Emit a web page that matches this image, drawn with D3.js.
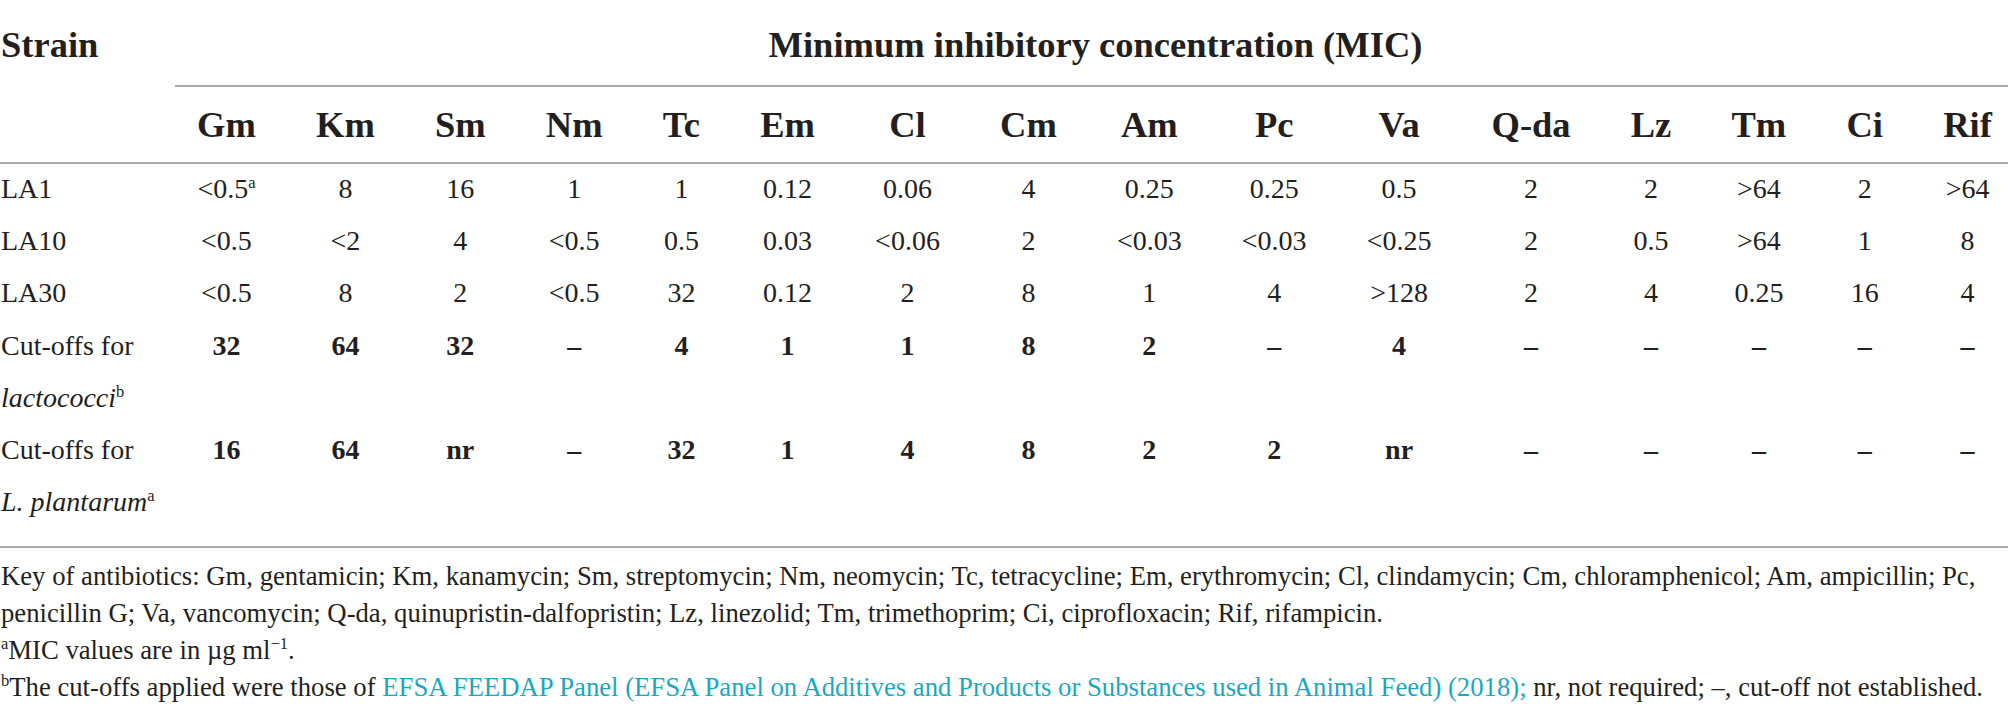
<!DOCTYPE html>
<html>
<head>
<meta charset="utf-8">
<script src="https://d3js.org/d3.v7.min.js"></script>
<style>
  html, body { margin: 0; padding: 0; background: #fff; }
  svg { display: block; }
  text { font-family: "Liberation Serif", "Times New Roman", serif; fill: #231f20; }
</style>
</head>
<body>
<svg id="tbl"></svg>
<script>
// table content
const antibiotics = ["Gm", "Km", "Sm", "Nm", "Tc", "Em", "Cl", "Cm", "Am", "Pc", "Va", "Q-da", "Lz", "Tm", "Ci", "Rif"];
const strains = ["LA1", "LA10", "LA30"];
const la1 = ["<0.5^a", "8", "16", "1", "1", "0.12", "0.06", "4", "0.25", "0.25", "0.5", "2", "2", ">64", "2", ">64"];
const la10 = ["<0.5", "<2", "4", "<0.5", "0.5", "0.03", "<0.06", "2", "<0.03", "<0.03", "<0.25", "2", "0.5", ">64", "1", "8"];
const la30 = ["<0.5", "8", "2", "<0.5", "32", "0.12", "2", "8", "1", "4", ">128", "2", "4", "0.25", "16", "4"];
const cutLactococci = ["32", "64", "32", "–", "4", "1", "1", "8", "2", "–", "4", "–", "–", "–", "–", "–"];
const cutPlantarum = ["16", "64", "nr", "–", "32", "1", "4", "8", "2", "2", "nr", "–", "–", "–", "–", "–"];
const headerTitle = "Minimum inhibitory concentration (MIC)";

const footKey1 = "Key of antibiotics: Gm, gentamicin; Km, kanamycin; Sm, streptomycin; Nm, neomycin; Tc, tetracycline; Em, erythromycin; Cl, clindamycin; Cm, chloramphenicol; Am, ampicillin; Pc,";
const footKey2 = "penicillin G; Va, vancomycin; Q-da, quinupristin-dalfopristin; Lz, linezolid; Tm, trimethoprim; Ci, ciprofloxacin; Rif, rifampicin.";
const footUnits = "MIC values are in µg ml";
const footCutPre = "The cut-offs applied were those of ";
const footCutLink = "EFSA FEEDAP Panel (EFSA Panel on Additives and Products or Substances used in Animal Feed) (2018);";
const footCutPost = " nr, not required; –, cut-off not established.";

const width = 2008, height = 718;
const svg = d3.select("#tbl").attr("width", width).attr("height", height);

const headSize = 36.5, bodySize = 28, footSize = 26.7, supSize = 16.5;
const ruleColor = "#a7a9ac";
const linkColor = "#1ba8bf";
const firstColRight = 175;

// rows of the body: label lines and which line holds the values
const rows = [
  { label: [strains[0]], values: la1, bold: false, line: 0 },
  { label: [strains[1]], values: la10, bold: false, line: 1 },
  { label: [strains[2]], values: la30, bold: false, line: 2 },
  { label: ["Cut-offs for", "lactococci^b"], values: cutLactococci, bold: true, line: 3 },
  { label: ["Cut-offs for", "L. plantarum^a"], values: cutPlantarum, bold: true, line: 5 }
];

// vertical layout: one text line every ~52px
const y = d3.scaleLinear().domain([0, 6]).range([198, 511]);

// write "text^sup" into a text element (superscript stays upright)
function richText(sel, str, size) {
  const parts = str.split("^");
  sel.append("tspan").text(parts[0]);
  if (parts[1]) {
    sel.append("tspan")
      .attr("font-size", size)
      .attr("font-style", "normal")
      .attr("dy", -size * 0.6)
      .text(parts[1]);
  }
}

// measure text widths to size the columns, like a html table would
const probe = svg.append("text").attr("visibility", "hidden");
function measure(str, size, weight) {
  probe.selectAll("*").remove();
  probe.attr("font-size", size).attr("font-weight", weight).text(null);
  richText(probe, str, supSize);
  return probe.node().getComputedTextLength();
}

const colWidths = antibiotics.map((ab, i) => {
  let w = measure(ab, headSize, "bold");
  rows.forEach(r => { w = Math.max(w, measure(r.values[i], bodySize, r.bold ? "bold" : "normal")); });
  return w + 61;
});
probe.remove();

const cum = d3.cumsum(colWidths);
const total = cum[cum.length - 1];
// cells have a little padding outside the rules, so the column scale runs a bit wider
const x = d3.scaleLinear().domain([0, total]).range([167, 2022]);
const colCenter = antibiotics.map((ab, i) => x(cum[i] - colWidths[i] / 2));

// rules
const rules = [
  { x1: firstColRight, x2: width, y: 86 },
  { x1: 0, x2: width, y: 163 },
  { x1: 0, x2: width, y: 547 }
];
svg.append("g")
  .selectAll("line")
  .data(rules)
  .enter()
  .append("line")
  .attr("x1", d => d.x1)
  .attr("x2", d => d.x2)
  .attr("y1", d => d.y)
  .attr("y2", d => d.y)
  .attr("stroke", ruleColor)
  .attr("stroke-width", 2.2);

// header
svg.append("text")
  .attr("x", 1)
  .attr("y", 57)
  .attr("font-size", headSize)
  .attr("font-weight", "bold")
  .text("Strain");

svg.append("text")
  .attr("x", (firstColRight + width) / 2 + 4)
  .attr("y", 57)
  .attr("text-anchor", "middle")
  .attr("font-size", headSize)
  .attr("font-weight", "bold")
  .text(headerTitle);

svg.append("g")
  .selectAll("text")
  .data(antibiotics)
  .enter()
  .append("text")
  .attr("x", (d, i) => colCenter[i])
  .attr("y", 137)
  .attr("text-anchor", "middle")
  .attr("font-size", headSize)
  .attr("font-weight", "bold")
  .text(d => d);

// body rows
const rowG = svg.append("g")
  .selectAll("g")
  .data(rows)
  .enter()
  .append("g");

rowG.each(function (r) {
  const g = d3.select(this);
  r.label.forEach((lab, k) => {
    const t = g.append("text")
      .attr("x", 1)
      .attr("y", y(r.line + k))
      .attr("font-size", bodySize)
      .attr("font-style", k > 0 ? "italic" : "normal");
    richText(t, lab, supSize);
  });
  r.values.forEach((v, i) => {
    const t = g.append("text")
      .attr("x", colCenter[i])
      .attr("y", y(r.line))
      .attr("text-anchor", "middle")
      .attr("font-size", bodySize)
      .attr("font-weight", r.bold ? "bold" : "normal");
    richText(t, v, supSize);
  });
});

// footnotes
const foot = svg.append("g").attr("font-size", footSize);
const fy = d3.scaleLinear().domain([0, 3]).range([585, 696]);

foot.append("text").attr("x", 1).attr("y", fy(0)).text(footKey1);
foot.append("text").attr("x", 1).attr("y", fy(1)).text(footKey2);

const f3 = foot.append("text").attr("x", 1).attr("y", fy(2));
f3.append("tspan").attr("font-size", supSize).attr("dy", -supSize * 0.6).text("a");
f3.append("tspan").attr("dy", supSize * 0.6).text(footUnits);
f3.append("tspan").attr("font-size", supSize).attr("dy", -supSize * 0.6).text("−1");
f3.append("tspan").attr("dy", supSize * 0.6).text(".");

const f4 = foot.append("text").attr("x", 1).attr("y", fy(3));
f4.append("tspan").attr("font-size", supSize).attr("dy", -supSize * 0.6).text("b");
f4.append("tspan").attr("dy", supSize * 0.6).text(footCutPre);
f4.append("tspan").style("fill", linkColor).text(footCutLink);
f4.append("tspan").text(footCutPost);
</script>
</body>
</html>
